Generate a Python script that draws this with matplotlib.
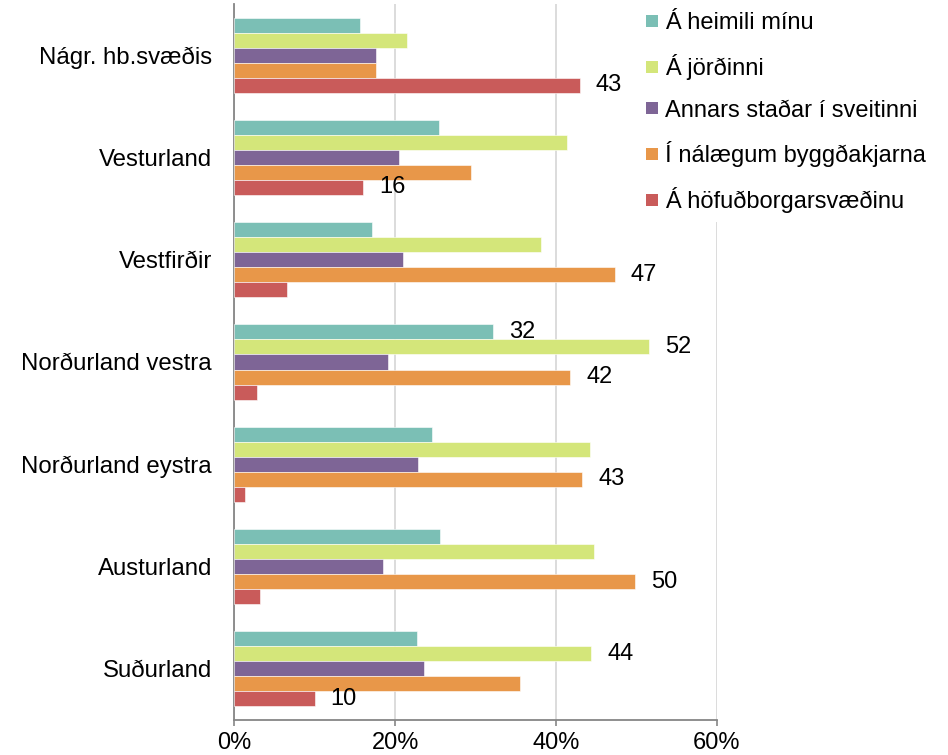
import numpy as np
import matplotlib.pyplot as plt
from matplotlib.lines import Line2D
from matplotlib.ticker import FuncFormatter

plt.rcParams['font.family'] = ['Liberation Sans', 'DejaVu Sans']

# regions (top to bottom)
categories = ["Nágr. hb.svæðis", "Vesturland", "Vestfirðir", "Norðurland vestra",
              "Norðurland eystra", "Austurland", "Suðurland"]

series_names = ["Á heimili mínu", "Á jörðinni", "Annars staðar í sveitinni",
                "Í nálægum byggðakjarna", "Á höfuðborgarsvæðinu"]

heimili = [15.6, 25.4, 17.1, 32.2, 24.6, 25.6, 22.7]
jordinni = [21.5, 41.4, 38.1, 51.6, 44.3, 44.8, 44.4]
annars = [17.6, 20.5, 21.0, 19.1, 22.9, 18.5, 23.6]
naelaegum = [17.6, 29.5, 47.3, 41.8, 43.3, 49.9, 35.5]
hofudborg = [43.0, 16.0, 6.5, 2.8, 1.3, 3.2, 10.0]

# which bars carry a value label: (series index, category index)
labelled = [(4, 0), (4, 1), (3, 2), (0, 3), (1, 3), (3, 3), (3, 4), (3, 5), (1, 6), (4, 6)]

colors = ["#7BBFB5", "#D4E67A", "#7E6596", "#E89749", "#C95B5A"]

values = [heimili, jordinni, annars, naelaegum, hofudborg]

fig = plt.figure(figsize=(9.48, 7.55), dpi=100)
ax = fig.add_axes([0.2472, 0.0464, 0.5088, 0.9483])

y = np.arange(len(categories))
h = 0.147
for i, (vals, name, c) in enumerate(zip(values, series_names, colors)):
    pos = y + (i - 2) * h
    ax.barh(pos, vals, height=h, color=c, label=name, edgecolor="white",
            linewidth=0.4, zorder=3)

for s, k in labelled:
    v = values[s][k]
    ax.annotate(f"{v:.0f}", (v, y[k] + (s - 2) * h), xytext=(11.5, 0),
                textcoords="offset points", ha="left", va="center",
                fontsize=17, color="black", zorder=4)

ax.set_xlim(0, 60)
ax.set_ylim(len(categories) - 0.5, -0.5)
ax.set_xticks([0, 20, 40, 60])
ax.xaxis.set_major_formatter(FuncFormatter(lambda v, p: f"{v:.0f}%"))
ax.set_yticks(y)
ax.set_yticklabels(categories)
ax.tick_params(axis="y", length=0, pad=16, labelsize=17.3)
ax.tick_params(axis="x", length=4, width=1.2, color="#868686", labelsize=17, pad=5)

ax.grid(axis="x", color="#D9D9D9", linewidth=1.3, zorder=0)
ax.set_axisbelow(True)
for side in ["top", "right"]:
    ax.spines[side].set_visible(False)
for side in ["left", "bottom"]:
    ax.spines[side].set_color("#868686")
    ax.spines[side].set_linewidth(1.3)

handles = [Line2D([], [], marker="s", linestyle="", markersize=9, color=c,
                  markeredgewidth=0) for c in colors]
leg = fig.legend(handles, series_names, loc="upper left", bbox_to_anchor=(0.6705, 0.996),
                 borderaxespad=0, frameon=True, fontsize=17, handlelength=0.6,
                 handletextpad=0.25, labelspacing=0.83, borderpad=0.4)
leg.get_frame().set_facecolor("white")
leg.get_frame().set_edgecolor("none")
leg.get_frame().set_alpha(1)

fig.savefig("out.png", dpi=100)
